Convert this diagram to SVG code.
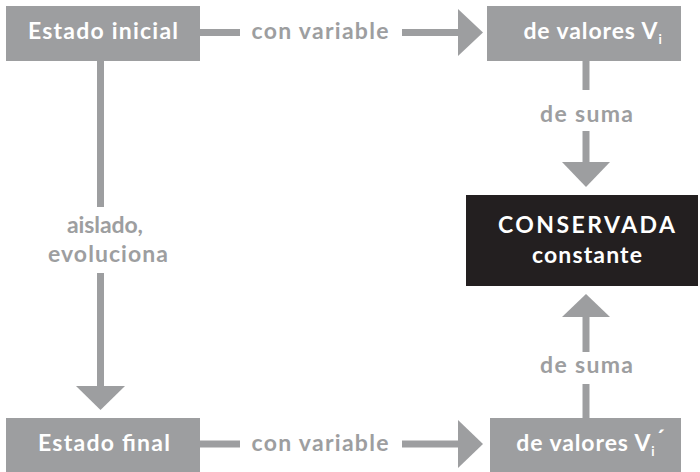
<svg xmlns="http://www.w3.org/2000/svg" width="700" height="472" viewBox="0 0 700 472">
<defs>
<style>
.box{fill:#9d9ea0}
.dark{fill:#231f20}
.bt{font-family:Lato,"Liberation Sans",sans-serif;font-weight:700;font-size:23px;fill:#ffffff;text-anchor:middle}
.lb{font-family:Lato,"Liberation Sans",sans-serif;font-weight:700;font-size:23px;fill:#9d9ea0;text-anchor:middle}
.ln{stroke:#9d9ea0;stroke-width:7;fill:none}
.ah{fill:#9d9ea0}
</style>
</defs>
<rect width="700" height="472" fill="#ffffff"/>
<g id="connectors">
<line class="ln" x1="200" y1="32.5" x2="240" y2="32.5"/>
<text class="lb" x="320" y="39" textLength="137" lengthAdjust="spacing">con variable</text>
<line class="ln" x1="402" y1="32.5" x2="460" y2="32.5"/>
<polygon class="ah" points="458,9 483,32.5 458,56"/>
<line class="ln" x1="200" y1="444" x2="240" y2="444"/>
<text class="lb" x="320" y="451" textLength="137" lengthAdjust="spacing">con variable</text>
<line class="ln" x1="402" y1="444" x2="460" y2="444"/>
<polygon class="ah" points="458,420 483,444 458,468"/>
<line class="ln" x1="100.5" y1="61" x2="100.5" y2="207"/>
<text class="lb" x="105" y="233" textLength="76" lengthAdjust="spacing">aislado,</text>
<text class="lb" x="108" y="262" textLength="120" lengthAdjust="spacing">evoluciona</text>
<line class="ln" x1="100.5" y1="273" x2="100.5" y2="388"/>
<polygon class="ah" points="76,386 125,386 100.5,410"/>
<line class="ln" x1="586" y1="61" x2="586" y2="90"/>
<text class="lb" x="586.5" y="122" textLength="93" lengthAdjust="spacing">de suma</text>
<line class="ln" x1="586" y1="131" x2="586" y2="164"/>
<polygon class="ah" points="562,162 610,162 586,187"/>
<line class="ln" x1="586" y1="418" x2="586" y2="384"/>
<text class="lb" x="586.5" y="373" textLength="93" lengthAdjust="spacing">de suma</text>
<line class="ln" x1="586" y1="352" x2="586" y2="315"/>
<polygon class="ah" points="562,317 610,317 586,294"/>
</g>
<g id="estado-inicial">
<rect class="box" x="6" y="6" width="194" height="55"/>
<text class="bt" x="103" y="39" textLength="150" lengthAdjust="spacing">Estado inicial</text>
</g>
<g id="valores-vi">
<rect class="box" x="487" y="6" width="194" height="55"/>
<text class="bt" x="593" y="39" letter-spacing="0.9">de valores V<tspan font-size="13" dy="5">i</tspan></text>
</g>
<g id="conservada">
<rect class="dark" x="466" y="195" width="232" height="91"/>
<text class="bt" x="586.5" y="233" textLength="177" lengthAdjust="spacing">CONSERVADA</text>
<text class="bt" x="587" y="263" textLength="110" lengthAdjust="spacing">constante</text>
</g>
<g id="estado-final">
<rect class="box" x="6" y="418" width="194" height="54"/>
<text class="bt" x="104" y="451" textLength="132" lengthAdjust="spacing">Estado final</text>
</g>
<g id="valores-vi-prima">
<rect class="box" x="490" y="418" width="191" height="54"/>
<text class="bt" x="591" y="451" letter-spacing="0.9">de valores V<tspan font-size="13" dy="5">i</tspan><tspan dy="-10">´</tspan></text>
</g>
</svg>
